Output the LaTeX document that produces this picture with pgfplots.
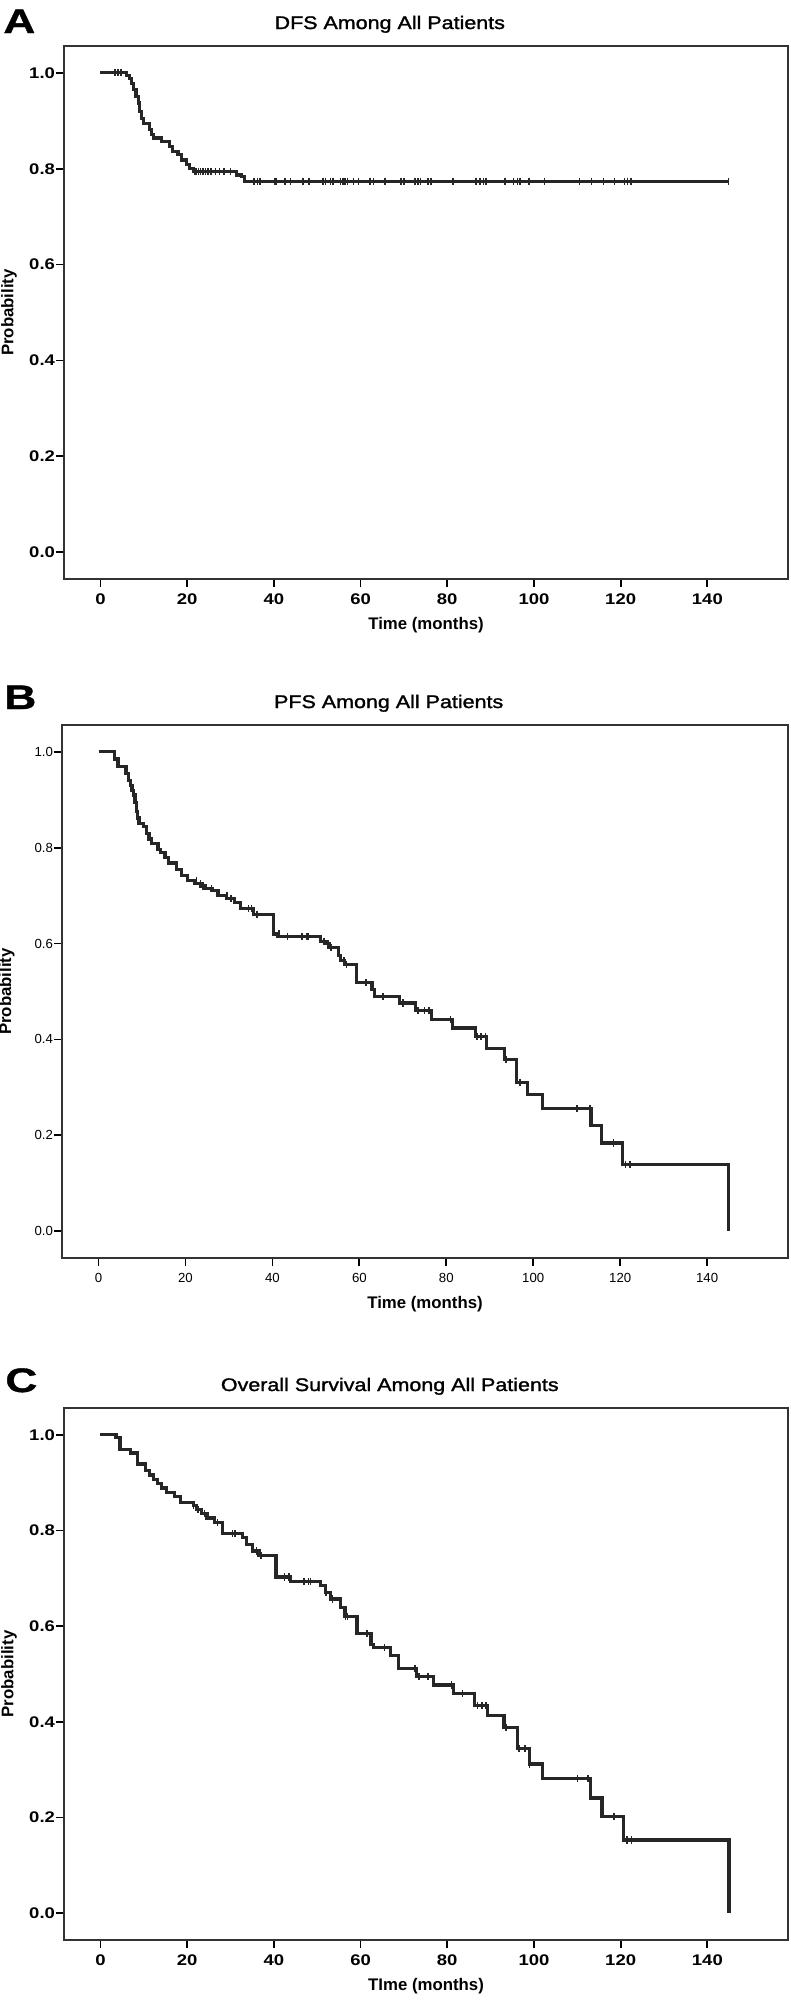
\documentclass[border=0pt]{standalone}
\usepackage{pgfplots}
\pgfplotsset{compat=1.18}
\usepackage{fontspec}
\setmainfont{Liberation Sans}
\newfontfamily\titlefont{Liberation Sans}[FakeStretch=1.18, FakeBold=1.5]
\newfontfamily\letterfont{Liberation Sans}[FakeStretch=1.3, FakeBold=1]
\newfontfamily\tickfont{Liberation Sans}[FakeStretch=1.2]
\definecolor{curve}{HTML}{262626}
\pgfplotsset{kmaxis/.style={
  scale only axis, width=362pt, height=266.5pt,
  xmin=-8.4, xmax=158.6, ymin=-0.056, ymax=1.056,
  xtick={0,20,...,140}, ytick={0,0.2,0.4,0.6,0.8,1.0},
  xtick pos=bottom, ytick pos=left, tick align=outside,
  major tick length=4pt,
  every tick/.style={black, line width=0.9pt},
  axis line style={black!80, line width=0.9pt},
  /pgf/number format/assume math mode=true,
  yticklabel style={xshift=3pt, /pgf/number format/fixed, /pgf/number format/fixed zerofill, /pgf/number format/precision=1},
  title style={at={(axis description cs:0.45,1)}, anchor=base, yshift=2.5pt, font=\titlefont\fontsize{9.1}{11}\selectfont},
  ylabel={Probability},
  xlabel style={at={(axis description cs:0.5,-0.086)}, anchor=center, font=\bfseries\fontsize{8.4}{10}\selectfont},
  ylabel style={at={(axis description cs:-0.076,0.5)}, anchor=center, font=\bfseries\fontsize{8.4}{10}\selectfont},
  clip=false,
}}
\begin{document}
\begin{tikzpicture}
\useasboundingbox (0,0) rectangle (395.5pt,-1001pt);
% ---------- A ----------
\begin{axis}[kmaxis, at={(32pt,-289.5pt)}, anchor=south west,
  title={DFS Among All Patients}, xlabel={Time (months)},
  ticklabel style={font=\tickfont\bfseries\fontsize{7.7}{9}\selectfont}]
\addplot[const plot, curve, line width=1.6pt] coordinates {
(0,1.0)(6.0,0.994)(6.8,0.989)(7.2,0.978)(7.7,0.965)(8.2,0.951)(8.7,0.937)(9.1,0.919)(9.5,0.905)(9.9,0.895)(11.3,0.881)(11.8,0.871)(12.2,0.864)(14.0,0.857)(16.0,0.846)(16.6,0.836)(17.9,0.829)(18.7,0.818)(19.9,0.808)(20.6,0.801)(21.4,0.794)(31.4,0.787)(32.6,0.784)(33.3,0.774)(145,0.774)};
\addplot[only marks, mark=|, mark size=1.8pt, curve, mark options={line width=0.8pt}] coordinates {
(3.4,1)(4,1)(4.8,1)
(21.8,0.794)(22.2,0.794)(22.6,0.794)(23.1,0.794)(23.6,0.794)(24.2,0.794)(24.8,0.794)(25.5,0.794)(26.5,0.794)(27.5,0.794)(28.5,0.794)(30.0,0.794)
(35.4,0.774)(36.2,0.774)(36.8,0.774)(40.3,0.774)(40.5,0.774)(42.6,0.774)(43.8,0.774)(46.7,0.774)(48.1,0.774)(51.4,0.774)(51.9,0.774)(53.1,0.774)(53.7,0.774)(55.4,0.774)(56.0,0.774)(56.4,0.774)(57.0,0.774)(58.4,0.774)(59.5,0.774)(62.2,0.774)(63.0,0.774)(65.6,0.774)(69.4,0.774)(70.0,0.774)(72.6,0.774)(73.3,0.774)(73.8,0.774)(75.6,0.774)(76.2,0.774)(81.3,0.774)(86.7,0.774)(87.5,0.774)(88.4,0.774)(89.0,0.774)(93.3,0.774)(95.3,0.774)(96.2,0.774)(96.8,0.774)(98.9,0.774)(102.4,0.774)(110.5,0.774)(113.3,0.774)(116.0,0.774)(118.6,0.774)(120.9,0.774)(121.6,0.774)(122.4,0.774)(144.9,0.774)};
\end{axis}
% ---------- B ----------
\begin{axis}[kmaxis, width=363pt, at={(31pt,-629pt)}, anchor=south west,
  title={PFS Among All Patients}, xlabel={Time (months)},
  ticklabel style={font=\fontsize{6.6}{8}\selectfont}]
\addplot[const plot, curve, line width=1.6pt] coordinates {
(0,1)(3.7,0.985)(4.5,0.970)(6.3,0.955)(6.9,0.94)(7.3,0.93)(7.7,0.92)(8.0,0.91)(8.4,0.895)(8.7,0.875)(9.0,0.862)(9.3,0.85)(10.3,0.845)(11.1,0.83)(11.6,0.818)(12.2,0.809)(13.7,0.797)(14.3,0.79)(15.3,0.78)(16.1,0.768)(18.0,0.755)(19.0,0.742)(20.4,0.732)(22.0,0.726)(23.4,0.72)(24.6,0.715)(26.1,0.71)(27.5,0.70)(29.4,0.694)(31.2,0.685)(32.7,0.673)(35.6,0.661)(40.3,0.62)(41.2,0.614)(51.1,0.605)(52.3,0.60)(53.0,0.592)(55.2,0.575)(55.6,0.564)(56.5,0.557)(59.4,0.519)(62.9,0.505)(63.5,0.49)(69.3,0.476)(73.0,0.46)(76.6,0.442)(81.4,0.424)(86.7,0.406)(89.2,0.381)(93.3,0.358)(96.2,0.311)(98.6,0.285)(102.1,0.256)(113.3,0.22)(115.7,0.184)(120.6,0.139)(145,0)};
\addplot[only marks, mark=|, mark size=1.8pt, curve, mark options={line width=0.8pt}] coordinates {
(22.5,0.732)(23.5,0.726)(24,0.72)(26,0.715)(29.5,0.70)(30.5,0.694)(34.5,0.673)(35.2,0.673)(36.5,0.661)(41.5,0.62)(43.5,0.614)(46.8,0.614)(47.8,0.614)(48.2,0.614)(51.8,0.605)(52.8,0.6)(53.5,0.592)(56.5,0.564)(57,0.557)(61.5,0.519)(65.5,0.49)(70,0.476)(73.5,0.46)(75,0.46)(76,0.46)(81,0.442)(87,0.406)(88,0.406)(89,0.406)(93.8,0.358)(97,0.311)(110,0.256)(113,0.256)(118.5,0.184)(121.2,0.139)(122.2,0.139)};
\end{axis}
% ---------- C ----------
\begin{axis}[kmaxis, height=266pt, at={(32pt,-970pt)}, anchor=south west,
  title={Overall Survival Among All Patients}, xlabel={TIme (months)},
  ticklabel style={font=\tickfont\bfseries\fontsize{7.7}{9}\selectfont}]
\addplot[const plot, curve, line width=1.6pt] coordinates {
(0,1)(3.6,0.994)(4.5,0.969)(6.9,0.962)(8.6,0.939)(10.4,0.925)(11.4,0.916)(12.3,0.907)(13.2,0.898)(14.1,0.889)(15.3,0.88)(17.0,0.871)(18.5,0.859)(21.4,0.853)(22.2,0.844)(23.4,0.835)(24.6,0.826)(26.3,0.816)(28.1,0.794)(32.7,0.785)(33.7,0.771)(35.1,0.757)(36.6,0.748)(40.5,0.703)(43.8,0.694)(50.8,0.685)(51.9,0.671)(53.1,0.657)(55.4,0.639)(56.4,0.621)(59.2,0.585)(62.4,0.562)(63.0,0.555)(66.9,0.539)(68.8,0.512)(72.9,0.495)(76.8,0.477)(81.4,0.459)(86.3,0.435)(89.2,0.414)(93.1,0.389)(96.2,0.344)(98.9,0.312)(102.0,0.282)(113.1,0.241)(115.7,0.203)(120.7,0.153)(145,0)};
\addplot[only marks, mark=|, mark size=1.8pt, curve, mark options={line width=0.8pt}] coordinates {
(21.5,0.853)(22.5,0.844)(24,0.835)(27,0.816)(30.5,0.794)(31,0.794)(36,0.757)(37,0.748)(42.5,0.703)(43.5,0.703)(47,0.694)(48,0.694)(48.5,0.694)(52,0.671)(53.5,0.657)(56.5,0.621)(57,0.621)(61.5,0.585)(65.5,0.555)(72.5,0.512)(73.5,0.495)(75.5,0.495)(81,0.477)(83.5,0.459)(87,0.435)(88,0.435)(89,0.435)(93.5,0.389)(96.5,0.344)(98,0.344)(99,0.312)(110,0.282)(112.5,0.282)(118.5,0.203)(121.5,0.153)(122.5,0.153)};
\end{axis}
% panel letters
\node[anchor=base west, inner sep=0pt, font=\letterfont\bfseries\fontsize{17}{20}\selectfont] at (1.5pt,-16.5pt) {A};
\node[anchor=base west, inner sep=0pt, font=\letterfont\bfseries\fontsize{17}{20}\selectfont] at (2pt,-354.5pt) {B};
\node[anchor=base west, inner sep=0pt, font=\letterfont\bfseries\fontsize{17}{20}\selectfont] at (2.5pt,-696pt) {C};
\end{tikzpicture}
\end{document}
